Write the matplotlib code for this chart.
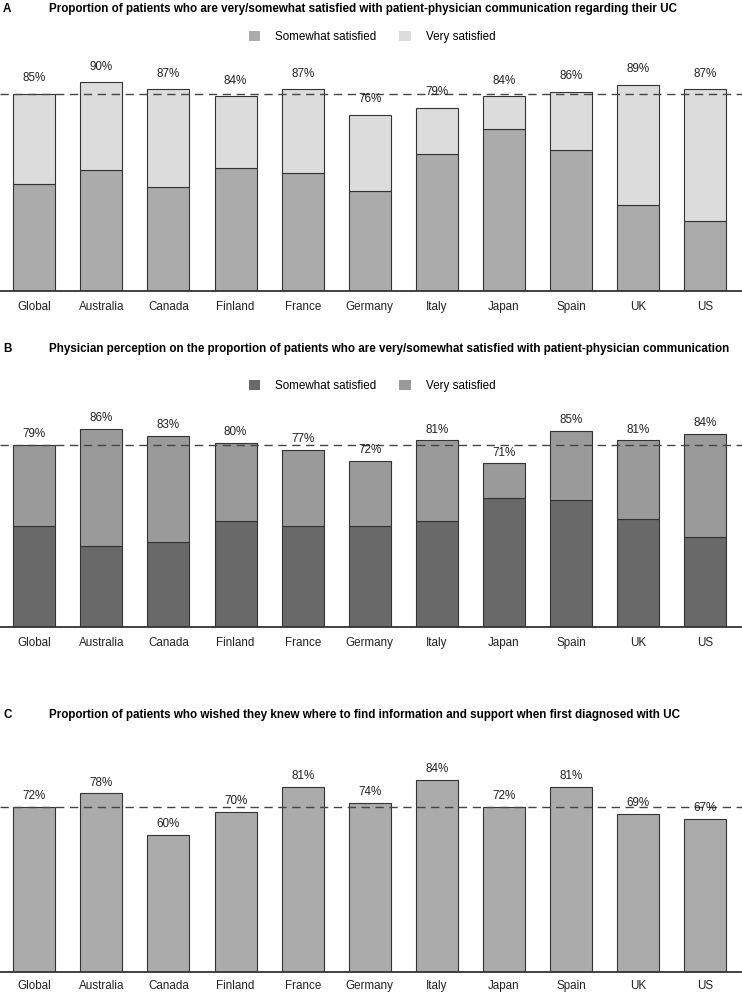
import matplotlib
matplotlib.use("Agg")
import matplotlib.pyplot as plt
from matplotlib.patches import Patch
import numpy as np

plt.rcParams['font.family'] = ['Liberation Sans', 'DejaVu Sans']

countries = ["Global", "Australia", "Canada", "Finland", "France", "Germany",
             "Italy", "Japan", "Spain", "UK", "US"]

# Panel A: patients
a_total = [85, 90, 87, 84, 87, 76, 79, 84, 86, 89, 87]
a_somewhat = [46, 52, 45, 53, 51, 43, 59, 70, 61, 37, 30]
a_very = [t - s for t, s in zip(a_total, a_somewhat)]

# Panel B: physician perception
b_total = [79, 86, 83, 80, 77, 72, 81, 71, 85, 81, 84]
b_somewhat = [44, 35, 37, 46, 44, 44, 46, 56, 55, 47, 39]
b_very = [t - s for t, s in zip(b_total, b_somewhat)]

# Panel C
c_values = [72, 78, 60, 70, 81, 74, 84, 72, 81, 69, 67]

titles = [
    "Proportion of patients who are very/somewhat satisfied with patient-physician communication regarding their UC",
    "Physician perception on the proportion of patients who are very/somewhat satisfied with patient-physician communication",
    "Proportion of patients who wished they knew where to find information and support when first diagnosed with UC",
]
panel_letters = ["A", "B", "C"]
legend_labels = ["Somewhat satisfied", "Very satisfied"]

W, H = 742, 997
fig = plt.figure(figsize=(W / 100, H / 100), dpi=100)

def fy(py):
    return 1 - py / H

FS = 8.4
EDGE = "#333333"
x = np.arange(len(countries))
bw = 0.626

def make_ax(base_px, px_per_pct, pad):
    h = 100 * px_per_pct
    ax = fig.add_axes([0, fy(base_px), 1, h / H])
    ax.set_xlim(-0.511, 10.547)
    ax.set_ylim(0, 100)
    for s in ["top", "right", "left"]:
        ax.spines[s].set_visible(False)
    ax.spines["bottom"].set_color("#333333")
    ax.spines["bottom"].set_linewidth(1.3)
    ax.set_yticks([])
    ax.set_xticks(x)
    ax.set_xticklabels(countries, fontsize=FS, color="#222222")
    ax.tick_params(axis="x", length=0, pad=pad)
    return ax

def labels(ax, tops, off):
    for xi, t in zip(x, tops):
        ax.annotate(f"{t}%", (xi, t), xytext=(0, off), textcoords="offset points",
                    ha="center", va="bottom", fontsize=FS, color="#222222")

# Panel A
axA = make_ax(290.7, 2.314, 7.5)
cA = ["#ababab", "#dcdcdc"]
axA.bar(x, a_somewhat, bw, color=cA[0], edgecolor=EDGE, linewidth=0.8)
axA.bar(x, a_very, bw, bottom=a_somewhat, color=cA[1], edgecolor=EDGE, linewidth=0.8)
axA.axhline(a_total[0], color="#444444", lw=1.0, ls=(0, (6, 4)))
labels(axA, a_total, 7)

# Panel B
axB = make_ax(626.7, 2.30, 7.5)
cB = ["#696969", "#9a9a9a"]
axB.bar(x, b_somewhat, bw, color=cB[0], edgecolor=EDGE, linewidth=0.8)
axB.bar(x, b_very, bw, bottom=b_somewhat, color=cB[1], edgecolor=EDGE, linewidth=0.8)
axB.axhline(b_total[0], color="#444444", lw=1.0, ls=(0, (6, 4)))
labels(axB, b_total, 3.5)

# Panel C
axC = make_ax(972, 2.29, 5.5)
axC.bar(x, c_values, bw, color="#ababab", edgecolor=EDGE, linewidth=0.8)
axC.axhline(c_values[0], color="#444444", lw=1.0, ls=(0, (6, 4)))
labels(axC, c_values, 3.5)

# titles
for letter, title, ty in zip(panel_letters, titles, [9, 349, 715]):
    fig.text(3 / W, fy(ty), letter, fontsize=FS, fontweight="bold", va="center", ha="left")
    fig.text(49 / W, fy(ty), title, fontsize=FS, fontweight="bold", va="center", ha="left")

# legends
for cols, ly in [(cA, 37.3), (cB, 386)]:
    handles = [Patch(facecolor=c, edgecolor="none") for c in cols]
    fig.legend(handles, legend_labels, loc="center", bbox_to_anchor=(372 / W, fy(ly)),
               ncol=2, frameon=False, fontsize=FS, handlelength=0.95, handleheight=0.95,
               handletextpad=1.3, columnspacing=2.0)

fig.savefig("out.png", dpi=100)
